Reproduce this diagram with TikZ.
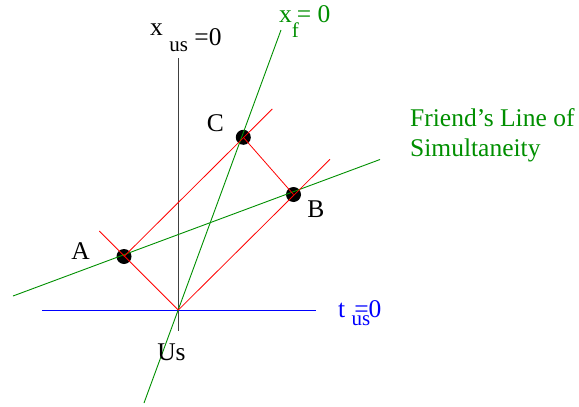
\documentclass[tikz,border=0pt]{standalone}
\usepackage{fontspec}
\setmainfont{Liberation Serif}
\definecolor{xgreen}{rgb}{0,0.56,0}

\begin{document}
\begin{tikzpicture}[x=1pt, y=-1pt,
        nhan/.style={font=\fontsize{25.5}{30}\selectfont, inner sep=0pt},
        cham/.style={circle, fill=black, inner sep=0pt, minimum size=15pt},
        tia/.style={red, line width=0.8pt}]
        \useasboundingbox (0,0) rectangle (579,407);
        % Các điểm
        \coordinate (O) at (178.3,310);
        \node[cham] (A) at (124,256.5) {};
        \node[cham] (B) at (293.5,194.5) {};
        \node[cham] (C) at (243.3,137.3) {};
        % Đầu mút các đường
        \coordinate (xus1) at (178.3,58);
        \coordinate (xus2) at (178.3,331);
        \coordinate (tus1) at (42,310.3);
        \coordinate (tus2) at (316,310.3);
        \coordinate (xf1) at (144,403);
        \coordinate (xf2) at (281,30);
        \coordinate (sim1) at (13,296);
        \coordinate (sim2) at (380,159.5);
        \coordinate (a1) at (99.3,231);
        \coordinate (b1) at (330,159.3);
        \coordinate (c1) at (272.3,109);
        % Các trục
        \draw[black!75, line width=1pt] (xus1) -- (xus2);
        \draw[blue, line width=1.3pt] (tus1) -- (tus2);
        \draw[xgreen, line width=0.9pt] (xf1) -- (xf2);
        \draw[xgreen, line width=0.9pt] (sim1) -- (sim2);
        % Tia sáng
        \draw[tia] (O) -- (a1);
        \draw[tia] (O) -- (b1);
        \draw[tia] (A.center) -- (c1);
        \draw[tia] (C.center) -- (B.center);
        % Nhãn
        \node[nhan, anchor=base west] (lxus) at (150,45) {\raisebox{10pt}{x} \raisebox{-6pt}{\fontsize{21}{21}\selectfont us} =0};
        \node[nhan, anchor=base west, text=xgreen] (lxf) at (279,22) {x\raisebox{-15pt}{\fontsize{21}{21}\selectfont f}\kern-2pt= 0};
        \node[nhan, anchor=base west, text=blue] (ltus) at (338,317) {t \raisebox{-8pt}{\fontsize{21}{21}\selectfont us}\kern-16pt=0};
        \node[nhan, anchor=base west, text=xgreen, align=left] (lsim) at (410,156.7) {Friend’s Line of\\Simultaneity};
        \node[nhan] (lA) at (80.5,251.5) {A};
        \node[nhan] (lB) at (316,209.5) {B};
        \node[nhan] (lC) at (215.5,123) {C};
        \node[nhan] (lUs) at (171.5,352.5) {Us};
\end{tikzpicture}
\end{document}
